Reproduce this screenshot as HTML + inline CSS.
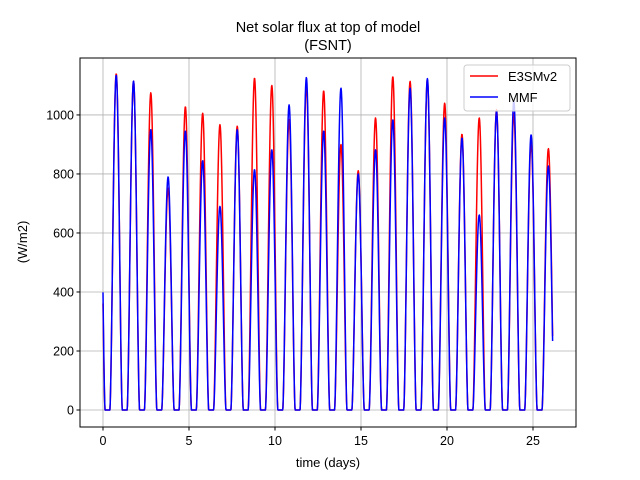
<!DOCTYPE html>
<html><head><meta charset="utf-8"><style>
body{margin:0;background:#fff;}
svg{display:block;font-family:"Liberation Sans","DejaVu Sans",sans-serif;}
</style></head><body>
<svg id="chart" width="640" height="480" viewBox="0 0 640 480">
<rect width="640" height="480" fill="#fff"/>
<text x="328" y="32" font-size="14.5" text-anchor="middle">Net solar flux at top of model</text>
<text x="328" y="50" font-size="14.5" text-anchor="middle">(FSNT)</text>
<g id="grid"></g>
<g id="plot"></g>
<rect x="80" y="58" width="496" height="369" fill="none" stroke="#000" stroke-width="1"/>
<g id="ticks"></g>
<text x="328" y="467" font-size="13" text-anchor="middle">time (days)</text>
<text transform="translate(27,242) rotate(-90)" font-size="13" text-anchor="middle">(W/m2)</text>
<g>
<rect x="464" y="65" width="106" height="46" rx="3" fill="#fff" fill-opacity="0.8" stroke="#ccc"/>
<line x1="470" y1="76" x2="498" y2="76" stroke="#f00" stroke-width="1.5"/>
<text x="508" y="81" font-size="13">E3SMv2</text>
<line x1="470" y1="97" x2="498" y2="97" stroke="#00f" stroke-width="1.5"/>
<text x="508" y="102" font-size="13">MMF</text>
</g>
</svg>
<script>
const days=[-1,0,1,2,3,4,5,6,7,8,9,10,11,12,13,14,15,16,17,18,19,20,21,22,23,24,25];
const e3smPeaks=[1050,1140,1115,1075,752,1028,1006,967,962,1125,1100,984,1100,1082,900,811,990,1130,1114,1120,1040,935,990,1018,1005,905,886];
const mmfPeaks=[1160,1135,1115,950,790,946,845,690,950,815,882,1034,1127,946,1091,800,882,984,1091,1123,990,922,661,1013,1048,933,827];
const xTicks=[0,5,10,15,20,25];
const yTicks=[0,200,400,600,800,1000];
const X0=80,X1=576,Y0=58,Y1=427;
const xmin=-1.337,xmax=27.5,ymin=-57.6,ymax=1193;
const xs=v=>X0+(v-xmin)/(xmax-xmin)*(X1-X0);
const ys=v=>Y1-(v-ymin)/(ymax-ymin)*(Y1-Y0);
const NS='http://www.w3.org/2000/svg';
function mk(tag,attrs,parent){const e=document.createElementNS(NS,tag);for(const k in attrs)e.setAttribute(k,attrs[k]);parent.appendChild(e);return e;}
const grid=document.getElementById('grid'),ticks=document.getElementById('ticks'),plot=document.getElementById('plot');
xTicks.forEach(t=>{
 const g=mk('line',{x1:xs(t),x2:xs(t),y1:Y0,y2:Y1,stroke:'#b0b0b0','stroke-width':0.8},grid);
 
 
 mk('line',{x1:xs(t),x2:xs(t),y1:Y1,y2:Y1+3.5,stroke:'#000'},ticks);
 const l=mk('text',{x:xs(t),y:Y1+18,'font-size':12.5,'text-anchor':'middle'},ticks);
 l.textContent=t;
 
 
});
yTicks.forEach(t=>{
 const g=mk('line',{x1:X0,x2:X1,y1:ys(t),y2:ys(t),stroke:'#b0b0b0','stroke-width':0.8},grid);
 
 
 mk('line',{x1:X0-3.5,x2:X0,y1:ys(t),y2:ys(t),stroke:'#000'},ticks);
 const l=mk('text',{x:X0-6,y:ys(t)+4.5,'font-size':12.5,'text-anchor':'end'},ticks);
 l.textContent=t;
 
 
});
function val(t,peaks){
 let v=0;
 days.forEach((d,i)=>{
  const pk=d+0.77+0.005*Math.max(d,0);
  const s=pk-0.37,e=pk+0.35;
  if(t>s&&t<e){
   const f=t<pk?(t-s)/(pk-s):(e-t)/(e-pk);
   v=Math.max(v,peaks[i]*Math.pow(Math.sin(f*Math.PI/2),1.6));
  }
 });
 return v;
}
function draw(peaks,color,name){
 let d='';
 for(let t=0;t<=26.141;t+=0.02){
  d+=(d?'L':'M')+xs(t).toFixed(2)+','+ys(val(t,peaks)).toFixed(2);
 }
 const p=mk('path',{d:d,fill:'none',stroke:color,'stroke-width':1.5,'stroke-linejoin':'round'},plot);
 
 
}
draw(e3smPeaks,'#f00','e3smv2-line');
draw(mmfPeaks,'#00f','mmf-line');
</script>
</body></html>
